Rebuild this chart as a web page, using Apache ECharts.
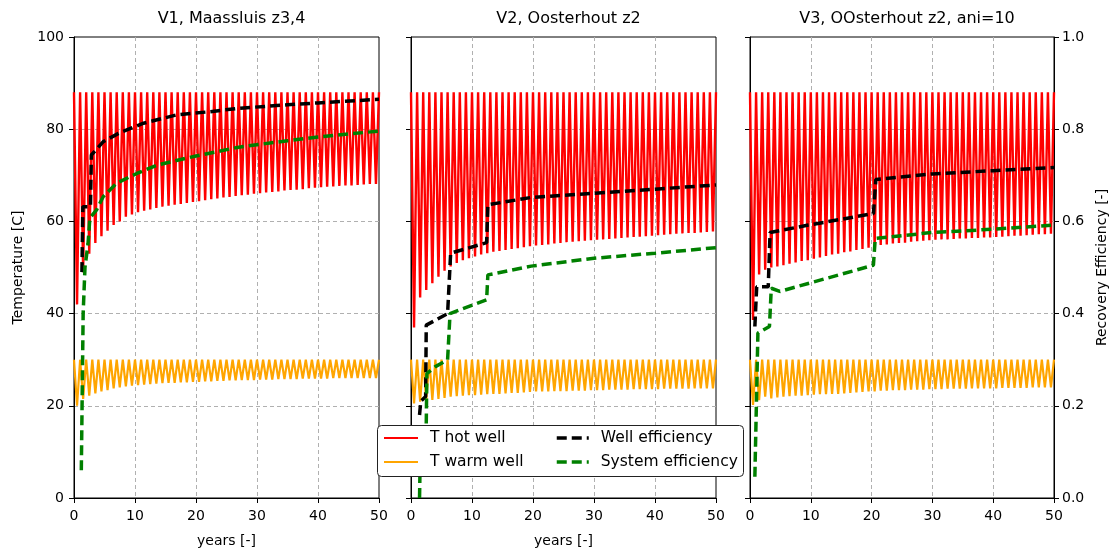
<!DOCTYPE html>
<html>
<head>
<meta charset="utf-8">
<script src="https://cdn.jsdelivr.net/npm/echarts@6/dist/echarts.min.js"></script>
<style>html,body{margin:0;padding:0;background:#fff}#c{width:1114px;height:550px}</style>
</head>
<body>
<div id="c"></div>
<script>
// ---------- data ----------
const panelTitles = ['V1, Maassluis z3,4', 'V2, Oosterhout z2', 'V3, OOsterhout z2, ani=10'];
const seriesNames = ['T hot well', 'T warm well', 'Well efficiency', 'System efficiency'];
const hotPeak = 88;   // upper level of hot-well oscillation, each year
const warmPeak = 30;  // upper level of warm-well oscillation, each year

// yearly minimum (trough) of T hot well, years 0..49
const v1HotTrough = [42,49,53,55.3,56.8,58,59.2,60,61,61.5, 62,62.3,62.6,62.9,63.2,63.4,63.6,63.8,64,64.2, 64.4,64.6,64.8,65,65.2,65.3,65.5,65.7,65.8,66, 66.1,66.3,66.4,66.5,66.7,66.8,66.9,67,67.2,67.3, 67.4,67.5,67.6,67.7,67.8,67.8,67.9,68,68.1,68.1];
const v2HotTrough = [37,43.5,45.1,46.6,48,49.3,50.2,51,51.6,52, 52.4,52.8,53.1,53.4,53.6,53.8,54,54.2,54.4,54.6, 54.8,54.9,55,55.2,55.3,55.5,55.6,55.7,55.8,55.9, 56,56.1,56.2,56.3,56.4,56.5,56.6,56.7,56.8,56.9, 57,57.1,57.2,57.3,57.4,57.5,57.5,57.6,57.7,57.8];
const v3HotTrough = [38.6,48.5,49.5,50,50.2,50.5,50.8,51.1,51.4,51.6, 51.9,52.2,52.5,52.8,53,53.3,53.5,53.8,54,54.3, 54.5,54.9,55,55.2,55.3,55.4,55.6,55.7,55.8,55.9, 56,56.1,56.1,56.2,56.3,56.3,56.4,56.4,56.5,56.5, 56.6,56.7,56.8,56.9,56.9,57,57.1,57.2,57.2,57.3];

// yearly minimum (trough) of T warm well, years 0..49
const v1WarmTrough = [20,21.5,22.2,22.7,23.1,23.4,23.8,24,24.2,24.4, 24.5,24.6,24.7,24.8,24.9,25,25,25.1,25.1,25.2, 25.2,25.3,25.3,25.4,25.4,25.5,25.5,25.6,25.6,25.6, 25.7,25.7,25.7,25.8,25.8,25.8,25.8,25.9,25.9,25.9, 25.9,25.9,26,26,26,26,26,26,26,26];
const v2WarmTrough = [20.5,20.9,21.1,21.3,21.5,21.7,22,22.1,22.2,22.3, 22.3,22.4,22.5,22.6,22.6,22.7,22.8,22.8,22.9,23, 23.1,23.1,23.1,23.2,23.2,23.2,23.3,23.3,23.3,23.4, 23.4,23.4,23.5,23.5,23.5,23.5,23.6,23.6,23.6,23.6, 23.6,23.7,23.7,23.7,23.7,23.7,23.8,23.8,23.8,23.8];
const v3WarmTrough = [20.2,21.2,22,21.6,21.8,22,22.1,22.2,22.2,22.3, 22.4,22.5,22.5,22.6,22.6,22.7,22.8,22.9,23,23.1, 23.1,23.3,23.3,23.4,23.4,23.4,23.5,23.5,23.5,23.6, 23.6,23.6,23.7,23.7,23.7,23.7,23.8,23.8,23.8,23.8, 23.8,23.9,23.9,23.9,23.9,23.9,24,24,24,24];

// recovery efficiency [year, value]
const v1WellEff = [[1.3,0.49],[1.45,0.632],[2.7,0.632],[2.85,0.744],[4.8,0.773],[7.3,0.791],[11.4,0.813],[16.8,0.831],[22.3,0.838],[26.7,0.845],[35,0.853],[40,0.857],[50,0.865]];
const v1SysEff = [[1.2,0.06],[1.5,0.40],[1.8,0.50],[2.3,0.552],[2.6,0.607],[3.7,0.625],[4.8,0.654],[7,0.683],[10.3,0.704],[13.6,0.722],[20,0.742],[27,0.761],[35,0.775],[40,0.783],[50,0.796]];
const v2WellEff = [[1.4,0.18],[1.6,0.21],[2.4,0.22],[2.5,0.375],[6.0,0.40],[6.5,0.531],[12.4,0.554],[12.6,0.636],[19.7,0.652],[30,0.661],[40,0.670],[50,0.679]];
const v2SysEff = [[1.4,0.0],[1.5,0.08],[2.5,0.16],[2.6,0.27],[4,0.285],[6.0,0.30],[6.4,0.40],[12.4,0.43],[12.6,0.484],[19.7,0.503],[30,0.52],[40,0.531],[50,0.543]];
const v3WellEff = [[0.8,0.372],[1.1,0.458],[3.0,0.458],[3.3,0.576],[9.6,0.592],[20.3,0.617],[20.7,0.691],[30,0.703],[40,0.71],[50,0.717]];
const v3SysEff = [[0.8,0.046],[1.3,0.358],[3.2,0.372],[3.5,0.455],[4.9,0.448],[20.3,0.505],[20.6,0.563],[30,0.576],[40,0.583],[50,0.592]];

// ---------- build ----------
const hotTroughs = [v1HotTrough, v2HotTrough, v3HotTrough];
const warmTroughs = [v1WarmTrough, v2WarmTrough, v3WarmTrough];
const wellEffs = [v1WellEff, v2WellEff, v3WellEff];
const sysEffs = [v1SysEff, v2SysEff, v3SysEff];

function oscillation(troughs, peak) {
  const d = [];
  for (let i = 0; i < troughs.length; i++) { d.push([i, peak]); d.push([i + 0.5, troughs[i]]); }
  d.push([troughs.length, peak]);
  return d;
}

const FONT = 'DejaVu Sans';
const gridLine = {show: true, showMinLine: false, showMaxLine: false, lineStyle: {color: '#b0b0b0', type: [4, 3], width: 1}};
const gridPos = [{left: 74, width: 305}, {left: 411, width: 305}, {left: 750, width: 304}];
const grids = [], xAxes = [], yAxes = [], series = [], titles = [];
gridPos.forEach((g, p) => {
  grids.push({left: g.left, width: g.width, top: 37, height: 461, show: true, borderColor: '#000', borderWidth: 1,
    backgroundColor: 'transparent', containLabel: false, outerBoundsMode: 'none'});
  titles.push({text: panelTitles[p], left: g.left + g.width / 2, top: 6, textAlign: 'center',
    textStyle: {fontFamily: FONT, fontSize: 16, fontWeight: 'normal', color: '#000'}});
  xAxes.push({type: 'value', gridIndex: p, min: 0, max: 50, interval: 10,
    name: p < 2 ? 'years [-]' : '', nameLocation: 'middle', nameGap: 36,
    nameTextStyle: {fontFamily: FONT, fontSize: 14, color: '#000'},
    axisLine: {lineStyle: {color: '#000', width: 1}},
    axisTick: {length: 5, lineStyle: {color: '#000'}},
    axisLabel: {fontFamily: FONT, fontSize: 14, color: '#000', margin: 11},
    splitLine: gridLine});
  yAxes.push({type: 'value', gridIndex: p, min: 0, max: 100, interval: 20, position: 'left',
    name: p === 0 ? 'Temperature [C]' : '', nameLocation: 'middle', nameGap: 49, nameRotate: 90,
    nameTextStyle: {fontFamily: FONT, fontSize: 14, color: '#000'},
    axisLine: {show: true, lineStyle: {color: '#000', width: 1}},
    axisTick: {show: true, length: 5, lineStyle: {color: '#000'}},
    axisLabel: {show: p === 0, fontFamily: FONT, fontSize: 14, color: '#000', margin: 10},
    splitLine: gridLine});
  yAxes.push({type: 'value', gridIndex: p, min: 0, max: 1, interval: 0.2, position: 'right',
    name: p === 2 ? 'Recovery Efficiency [-]' : '', nameLocation: 'middle', nameGap: 41, nameRotate: 90,
    nameTextStyle: {fontFamily: FONT, fontSize: 14, color: '#000'},
    axisLine: {show: p === 2, lineStyle: {color: '#000', width: 1}},
    axisTick: {show: p === 2, length: 5, lineStyle: {color: '#000'}},
    axisLabel: {show: p === 2, fontFamily: FONT, fontSize: 14, color: '#000', margin: 8,
      formatter: v => v.toFixed(1)},
    splitLine: {show: false}});
  series.push({name: seriesNames[0], type: 'line', xAxisIndex: p, yAxisIndex: p * 2, data: oscillation(hotTroughs[p], hotPeak),
    symbol: 'none', lineStyle: {color: '#ff0000', width: 2.4}, itemStyle: {color: '#ff0000'}, z: 2});
  series.push({name: seriesNames[1], type: 'line', xAxisIndex: p, yAxisIndex: p * 2, data: oscillation(warmTroughs[p], warmPeak),
    symbol: 'none', lineStyle: {color: '#ffa500', width: 2.2}, itemStyle: {color: '#ffa500'}, z: 2});
  series.push({name: seriesNames[2], type: 'line', xAxisIndex: p, yAxisIndex: p * 2 + 1, data: wellEffs[p],
    symbol: 'none', lineStyle: {color: '#000', width: 3.5, type: [10, 5]}, itemStyle: {color: '#000'}, z: 3});
  series.push({name: seriesNames[3], type: 'line', xAxisIndex: p, yAxisIndex: p * 2 + 1, data: sysEffs[p],
    symbol: 'none', lineStyle: {color: '#008000', width: 3.5, type: [10, 5]}, itemStyle: {color: '#008000'}, z: 3});
});

const legendText = {fontFamily: FONT, fontSize: 15.5, color: '#000', padding: [0, 0, 0, 7]};
const hiddenSymbol = {opacity: 0, color: 'transparent', borderWidth: 0};
const option = {
  animation: false,
  backgroundColor: '#fff',
  title: titles,
  grid: grids,
  xAxis: xAxes,
  yAxis: yAxes,
  series: series,
  graphic: [{type: 'rect', z: 100, shape: {x: 377.5, y: 425.5, width: 366, height: 51, r: 4},
    style: {fill: '#fff', stroke: '#222', lineWidth: 1}}],
  legend: [
    {data: [seriesNames[0], seriesNames[1]], orient: 'vertical', left: 383, top: 430, padding: 0,
      itemWidth: 34, itemHeight: 16, itemGap: 8, z: 110, selectedMode: false,
      itemStyle: hiddenSymbol, lineStyle: {width: 2}, textStyle: legendText},
    {data: [seriesNames[2], seriesNames[3]], orient: 'vertical', left: 555, top: 430, padding: 0,
      itemWidth: 32, itemHeight: 16, itemGap: 8, z: 110, selectedMode: false,
      itemStyle: hiddenSymbol, lineStyle: {width: 3.5}, textStyle: legendText}
  ]
};
const chart = echarts.init(document.getElementById('c'), null, {renderer: 'canvas'});
chart.setOption(option);
</script>
</body>
</html>
